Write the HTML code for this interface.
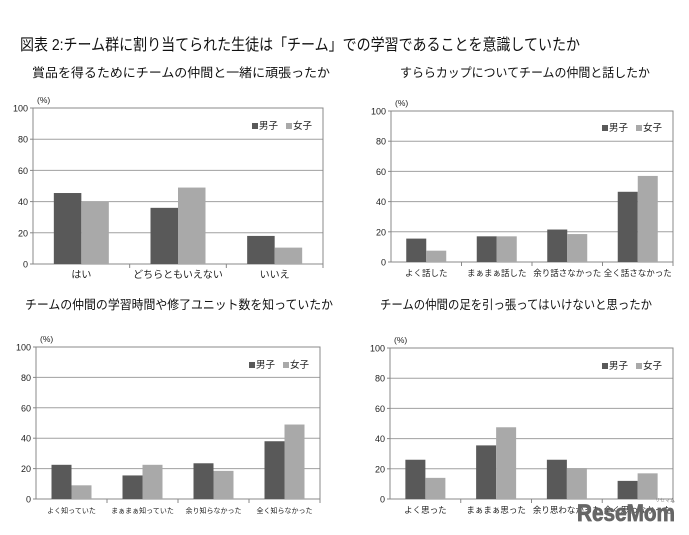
<!DOCTYPE html>
<html><head><meta charset="utf-8"><style>
html,body{margin:0;padding:0;background:#fff;}
svg{display:block;font-family:"Liberation Sans","Noto Sans CJK JP",sans-serif;}
</style></head><body>
<svg id="s" width="689" height="535" viewBox="0 0 689 535" xmlns="http://www.w3.org/2000/svg">
<rect width="689" height="535" fill="#fff"/>
<text x="20" y="50" font-size="16" fill="#111" textLength="560" lengthAdjust="spacingAndGlyphs">図表 2:チーム群に割り当てられた生徒は「チーム」での学習であることを意識していたか</text>
<text x="32" y="77" font-size="12.5" fill="#111" textLength="298" lengthAdjust="spacingAndGlyphs">賞品を得るためにチームの仲間と一緒に頑張ったか</text>
<text x="400" y="77" font-size="12.5" fill="#111" textLength="250" lengthAdjust="spacingAndGlyphs">すららカップについてチームの仲間と話したか</text>
<text x="25" y="309" font-size="12.5" fill="#111" textLength="308" lengthAdjust="spacingAndGlyphs">チームの仲間の学習時間や修了ユニット数を知っていたか</text>
<text x="380" y="309" font-size="12.5" fill="#111" textLength="272" lengthAdjust="spacingAndGlyphs">チームの仲間の足を引っ張ってはいけないと思ったか</text>
<g id="charts"></g>
<text x="577" y="521" font-size="24" font-weight="bold" fill="#666" stroke="#666" stroke-width="0.8" textLength="98" lengthAdjust="spacingAndGlyphs">ReseMom</text>
<text x="655" y="502" font-size="5" fill="#888">リセマム</text>
</svg>
<script>
var NS="http://www.w3.org/2000/svg",g=document.getElementById("charts");
function el(t,a,txt){var e=document.createElementNS(NS,t);for(var k in a)e.setAttribute(k,a[k]);if(txt)e.textContent=txt;g.appendChild(e);return e;}
function chart(x0,x1,yt,yb,cats,m,f,bw,fs,ly){
 var h=yb-yt;
 for(var i=0;i<=5;i++){var y=yb-h*i/5;
  if(i>0&&i<5)el("line",{x1:x0,x2:x1,y1:y,y2:y,stroke:"#a0a0a0","stroke-width":1});
  el("text",{x:x0-5,y:y+3.5,"font-size":9,"text-anchor":"end",fill:"#222"},String(i*20));
  el("line",{x1:x0-3,x2:x0,y1:y,y2:y,stroke:"#888"});}
 el("rect",{x:x0,y:yt,width:x1-x0,height:h,fill:"none",stroke:"#888","stroke-width":1});
 el("text",{x:x0+4,y:yt-5,"font-size":8.5,fill:"#222"},"(%)");
 var n=cats.length,cw=(x1-x0)/n;
 for(var j=0;j<n;j++){var cx=x0+cw*(j+0.5);
  el("rect",{x:cx-bw,y:yb-h*m[j]/100,width:bw,height:h*m[j]/100,fill:"#595959"});
  el("rect",{x:cx,y:yb-h*f[j]/100,width:bw,height:h*f[j]/100,fill:"#a9a9a9"});
  el("text",{x:cx,y:yb+14,"font-size":fs,"text-anchor":"middle",fill:"#222"},cats[j]);
  el("line",{x1:x0+cw*(j+1),x2:x0+cw*(j+1),y1:yb,y2:yb+4,stroke:"#888"});}
 var lx=x1-71;
 el("rect",{x:lx,y:ly-6,width:6,height:6,fill:"#595959"});
 el("text",{x:lx+7,y:ly,"font-size":9.5,fill:"#222"},"男子");
 el("rect",{x:lx+34,y:ly-6,width:6,height:6,fill:"#a9a9a9"});
 el("text",{x:lx+41,y:ly,"font-size":9.5,fill:"#222"},"女子");
}
chart(33,323,108,264,["はい","どちらともいえない","いいえ"],[45.5,36,18],[40,49,10.5],27.5,10,129);
chart(391,673,111,262,["よく話した","まぁまぁ話した","余り話さなかった","全く話さなかった"],[15.5,17,21.5,46.5],[7.5,17,18.5,57],20,8.5,131);
chart(36,320,347,499,["よく知っていた","まぁまぁ知っていた","余り知らなかった","全く知らなかった"],[22.5,15.5,23.5,38],[9,22.5,18.5,49],20,7,368);
chart(390,673,348,499,["よく思った","まぁまぁ思った","余り思わなかった","全く思わなかった"],[26,35.5,26,12],[14,47.5,20.5,17],20,8.5,369);
</script>
</body></html>
